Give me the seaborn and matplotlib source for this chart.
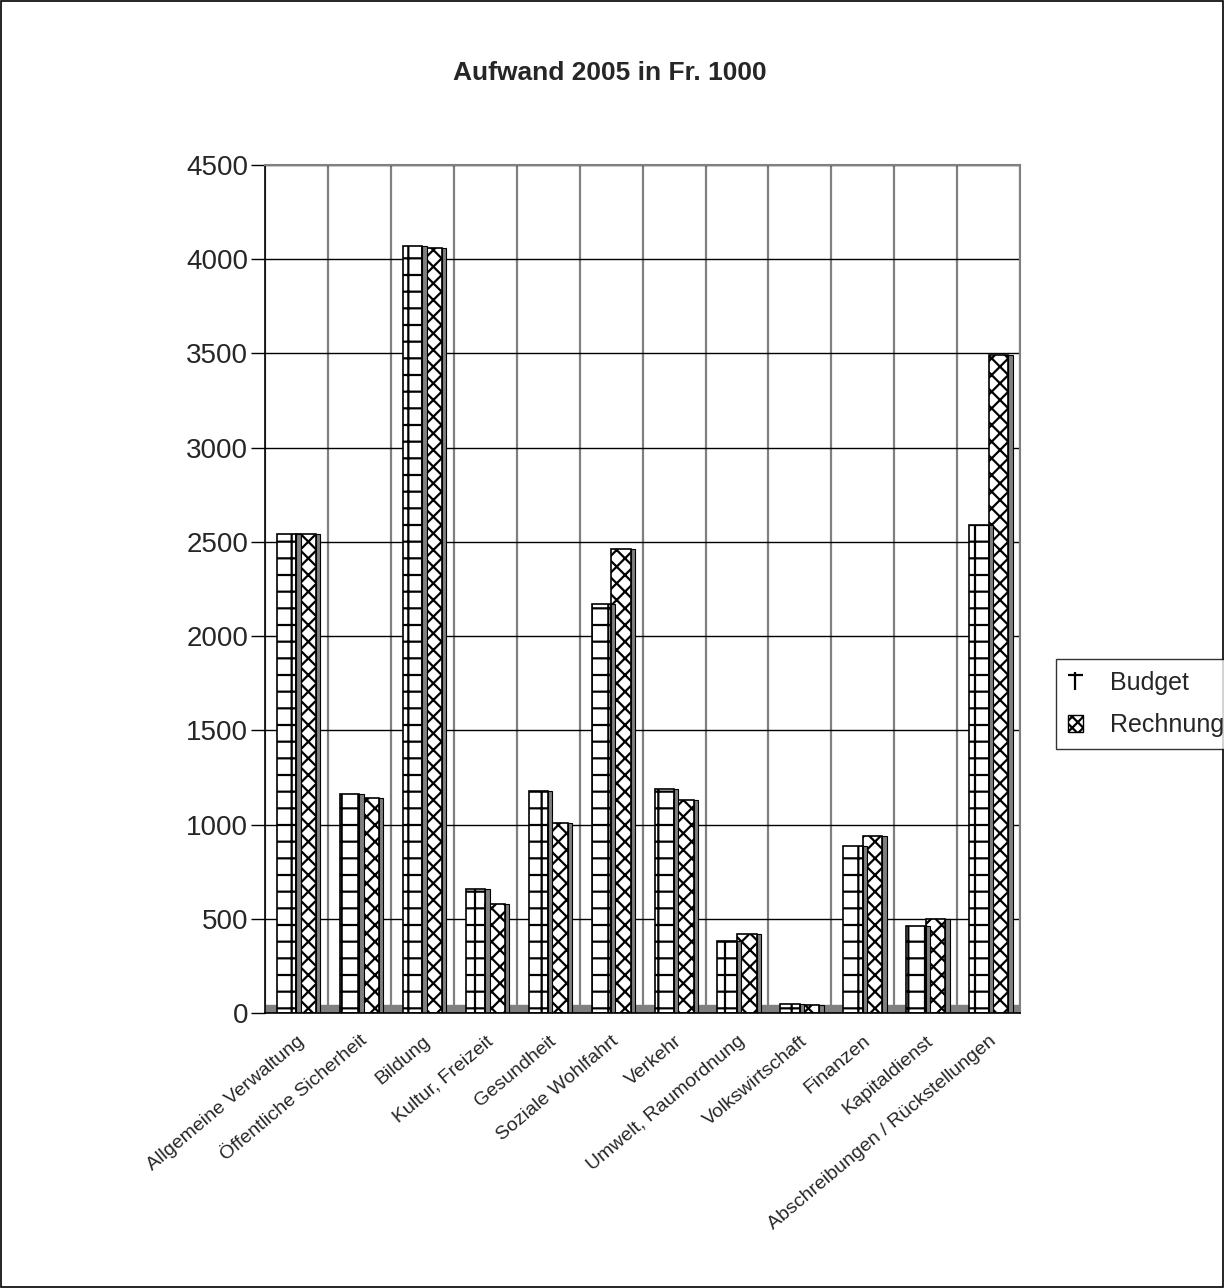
import pandas as pd
import numpy as np
import matplotlib
matplotlib.use("Agg")
import matplotlib.pyplot as plt
import matplotlib.patches as mpatches
import seaborn as sns

# --- data ---
kategorien = [
    "Allgemeine Verwaltung", "Öffentliche Sicherheit", "Bildung",
    "Kultur, Freizeit", "Gesundheit", "Soziale Wohlfahrt", "Verkehr",
    "Umwelt, Raumordnung", "Volkswirtschaft", "Finanzen",
    "Kapitaldienst", "Abschreibungen / Rückstellungen",
]
budget = [2540, 1160, 4070, 660, 1180, 2170, 1190, 380, 50, 885, 460, 2590]
rechnung = [2540, 1140, 4060, 580, 1010, 2460, 1130, 420, 45, 940, 500, 3490]
serien = ["Budget", "Rechnung"]
y_ticks = [0, 500, 1000, 1500, 2000, 2500, 3000, 3500, 4000, 4500]

df = pd.DataFrame({"Kategorie": kategorien, "Budget": budget, "Rechnung": rechnung})
df_long = df.melt(id_vars="Kategorie", value_vars=serien,
                  var_name="Serie", value_name="Wert")

sns.set_style("white")
plt.rcParams["font.family"] = ["Liberation Sans", "DejaVu Sans"]
plt.rcParams["hatch.linewidth"] = 1.6

fig = plt.figure(figsize=(12.24, 12.88), dpi=100)
ax = fig.add_axes([0.2165, 0.2135, 0.617, 0.6585])

sns.barplot(data=df_long, x="Kategorie", y="Wert", hue="Serie", order=kategorien,
            hue_order=serien, palette=["white", "white"], width=0.62,
            gap=0.0, edgecolor="black", linewidth=1.2, legend=False, ax=ax)

hatches = {"Budget": "+", "Rechnung": "xx"}
n = len(kategorien)
for i, p in enumerate(ax.patches[:2 * n]):
    serie = serien[i // n]
    p.set_hatch(hatches[serie])
    # gray side face to fake the 3D look
    side = mpatches.Rectangle((p.get_x() + p.get_width(), p.get_y()),
                              p.get_width() * 0.22, p.get_height(),
                              facecolor="#7f7f7f", edgecolor="black",
                              linewidth=0.8, zorder=p.get_zorder())
    ax.add_patch(side)

# floor
ax.axhspan(0, 45, color="#808080", zorder=0.5)

ax.set_ylim(0, 4500)
ax.set_xlim(-0.5, n - 0.5)
ax.set_yticks(y_ticks)
ax.set_yticklabels([str(v) for v in y_ticks], fontsize=20)
ax.set_xticks(range(n))
ax.set_xticklabels(kategorien, rotation=40, ha="right",
                   rotation_mode="anchor", fontsize=14)
ax.set_xticks(np.arange(n + 1) - 0.5, minor=True)
ax.tick_params(axis="x", which="major", length=0, pad=14)
ax.tick_params(axis="x", which="minor", length=12, width=1, color="black")
ax.tick_params(axis="y", length=10, width=1, color="black", pad=2, left=True)
ax.set_xlabel("")
ax.set_ylabel("")

ax.yaxis.grid(True, color="black", linewidth=1.0)
ax.xaxis.grid(True, which="minor", color="#808080", linewidth=1.6)
ax.set_axisbelow(True)

for s in ["top", "right"]:
    ax.spines[s].set_color("#808080")
    ax.spines[s].set_linewidth(1.5)
for s in ["left", "bottom"]:
    ax.spines[s].set_color("black")
    ax.spines[s].set_linewidth(1.2)

fig.suptitle("Aufwand 2005 in Fr. 1000", x=0.498, y=0.953,
             fontsize=19, fontweight="bold")

handles = [mpatches.Patch(facecolor="white", edgecolor="black", linewidth=0,
                          hatch="+", label="Budget"),
           mpatches.Patch(facecolor="white", edgecolor="black", hatch="xxx",
                          label="Rechnung")]
leg = fig.legend(handles=handles, loc="upper left", bbox_to_anchor=(0.863, 0.488),
                 fontsize=18, frameon=True, fancybox=False, edgecolor="black",
                 handlelength=0.6, handleheight=0.7, handletextpad=1.1,
                 borderpad=0.45, borderaxespad=0.0, labelspacing=0.75)
leg.get_frame().set_linewidth(1.0)

fig.patches.append(mpatches.Rectangle((0.001, 0.001), 0.998, 0.998,
                                      transform=fig.transFigure, fill=False,
                                      edgecolor="black", linewidth=1.2))

fig.savefig("out.png", dpi=100, facecolor="white")
